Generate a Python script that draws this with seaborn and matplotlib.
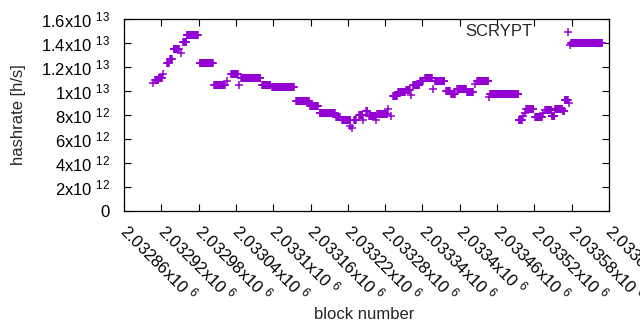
import numpy as np
import pandas as pd
import matplotlib
matplotlib.use('Agg')
import matplotlib.pyplot as plt
import seaborn as sns

# hashrate readings: each run of blocks shares one estimate (x1e12 h/s)
seg_start = [2032907, 2032910, 2032916, 2032923, 2032929, 2032934, 2032940, 2032952,
             2032955, 2032961, 2032982, 2033005, 2033026, 2033032, 2033045, 2033048,
             2033082, 2033098, 2033137, 2033159, 2033175, 2033201, 2033211, 2033224,
             2033227, 2033230, 2033238, 2033244, 2033249, 2033254, 2033265, 2033267,
             2033285, 2033290, 2033293, 2033301, 2033314, 2033322, 2033325, 2033336,
             2033344, 2033357, 2033360, 2033378, 2033386, 2033396, 2033412, 2033425,
             2033428, 2033447, 2033449, 2033495, 2033502, 2033505, 2033507, 2033521,
             2033534, 2033537, 2033548, 2033553, 2033566, 2033569, 2033576, 2033577,
             2033579]
seg_end = [2032907, 2032915, 2032921, 2032923, 2032932, 2032937, 2032948, 2032952,
           2032960, 2032979, 2033003, 2033022, 2033026, 2033043, 2033045, 2033079,
           2033095, 2033133, 2033158, 2033172, 2033199, 2033207, 2033224, 2033224,
           2033227, 2033233, 2033243, 2033244, 2033251, 2033264, 2033265, 2033283,
           2033285, 2033290, 2033299, 2033312, 2033320, 2033322, 2033335, 2033341,
           2033355, 2033357, 2033375, 2033384, 2033392, 2033410, 2033421, 2033425,
           2033446, 2033447, 2033494, 2033500, 2033502, 2033505, 2033518, 2033532,
           2033534, 2033547, 2033552, 2033565, 2033568, 2033574, 2033576, 2033577,
           2033629]
seg_value = [10.7, 10.9, 11.1, 11.4, 12.3, 12.7, 13.5, 13.2,
             14.1, 14.65, 12.3, 10.5, 10.8, 11.4, 10.5, 11.06,
             10.5, 10.3, 9.17, 8.72, 8.14, 7.86, 7.56, 7.08,
             6.9, 7.58, 8.0, 7.6, 8.3, 7.9, 7.6, 8.1,
             8.5, 7.9, 9.6, 9.9, 10.1, 9.7, 10.5, 10.8,
             11.1, 10.2, 10.8, 10.0, 9.75, 10.17, 9.94, 10.6,
             10.8, 9.5, 9.75, 7.6, 7.9, 8.2, 8.5, 7.86,
             8.2, 8.4, 7.95, 8.5, 8.3, 9.25, 8.97, 13.8,
             14.0]

x_ticks = [2032860 + 60 * i for i in range(14)]
x_labels = ['2.03286', '2.03292', '2.03298', '2.03304', '2.0331', '2.03316', '2.03322',
            '2.03328', '2.03334', '2.0334', '2.03346', '2.03352', '2.03358', '2.03364']
y_ticks = [0, 2e12, 4e12, 6e12, 8e12, 1e13, 1.2e13, 1.4e13, 1.6e13]
y_labels = ['0', '2x10 $^{12}$', '4x10 $^{12}$', '6x10 $^{12}$', '8x10 $^{12}$',
            '1x10 $^{13}$', '1.2x10 $^{13}$', '1.4x10 $^{13}$', '1.6x10 $^{13}$']

rows = []
for a, b, v in zip(seg_start, seg_end, seg_value):
    for blk in range(a, b + 1):
        rows.append((blk, v * 1e12))
df = pd.DataFrame(rows, columns=['block', 'hashrate'])

sns.set_style('white')
plt.rcParams['font.family'] = ['Liberation Sans', 'DejaVu Sans']
plt.rcParams['mathtext.default'] = 'regular'
plt.rcParams['mathtext.fontset'] = 'custom'
plt.rcParams['mathtext.rm'] = 'Liberation Sans'

fig = plt.figure(figsize=(6.4, 3.3), dpi=100)
ax = fig.add_axes([124 / 640, 1 - 211 / 330, 485 / 640, 192 / 330])

sns.scatterplot(data=df, x='block', y='hashrate', marker='+', color='#9400d3',
                s=30, linewidth=1.1, label='SCRYPT', ax=ax)

ax.set_xlim(2032860, 2033640)
ax.set_ylim(0, 1.6e13)
ax.set_yticks(y_ticks)
ax.set_yticklabels(y_labels, fontsize=12)
ax.set_xticks(x_ticks)
ax.set_xticklabels([s + 'x10 $^{6}$' for s in x_labels], fontsize=12,
                   rotation=-45, ha='left', va='center', rotation_mode='anchor')
ax.tick_params(direction='in', length=5, width=0.8, top=True, right=True,
               bottom=True, left=True, colors='black')
ax.tick_params(axis='y', pad=10)
ax.tick_params(axis='x', pad=12)
for sp in ax.spines.values():
    sp.set_color('black')
    sp.set_linewidth(0.9)

ax.set_xlabel('block number', fontsize=12)
ax.set_ylabel('hashrate [h/s]', fontsize=12)
ax.xaxis.set_label_coords((364 - 124) / 485, -(307 - 211) / 192)
ax.yaxis.set_label_coords(-(124 - 26) / 485, (211 - 115) / 192)

ax.legend(loc='center right', bbox_to_anchor=((585 - 124) / 485, (211 - 32) / 192),
          frameon=False, markerfirst=False, fontsize=12, handletextpad=1.15,
          borderpad=0, borderaxespad=0)

fig.savefig('out.png', dpi=100)
